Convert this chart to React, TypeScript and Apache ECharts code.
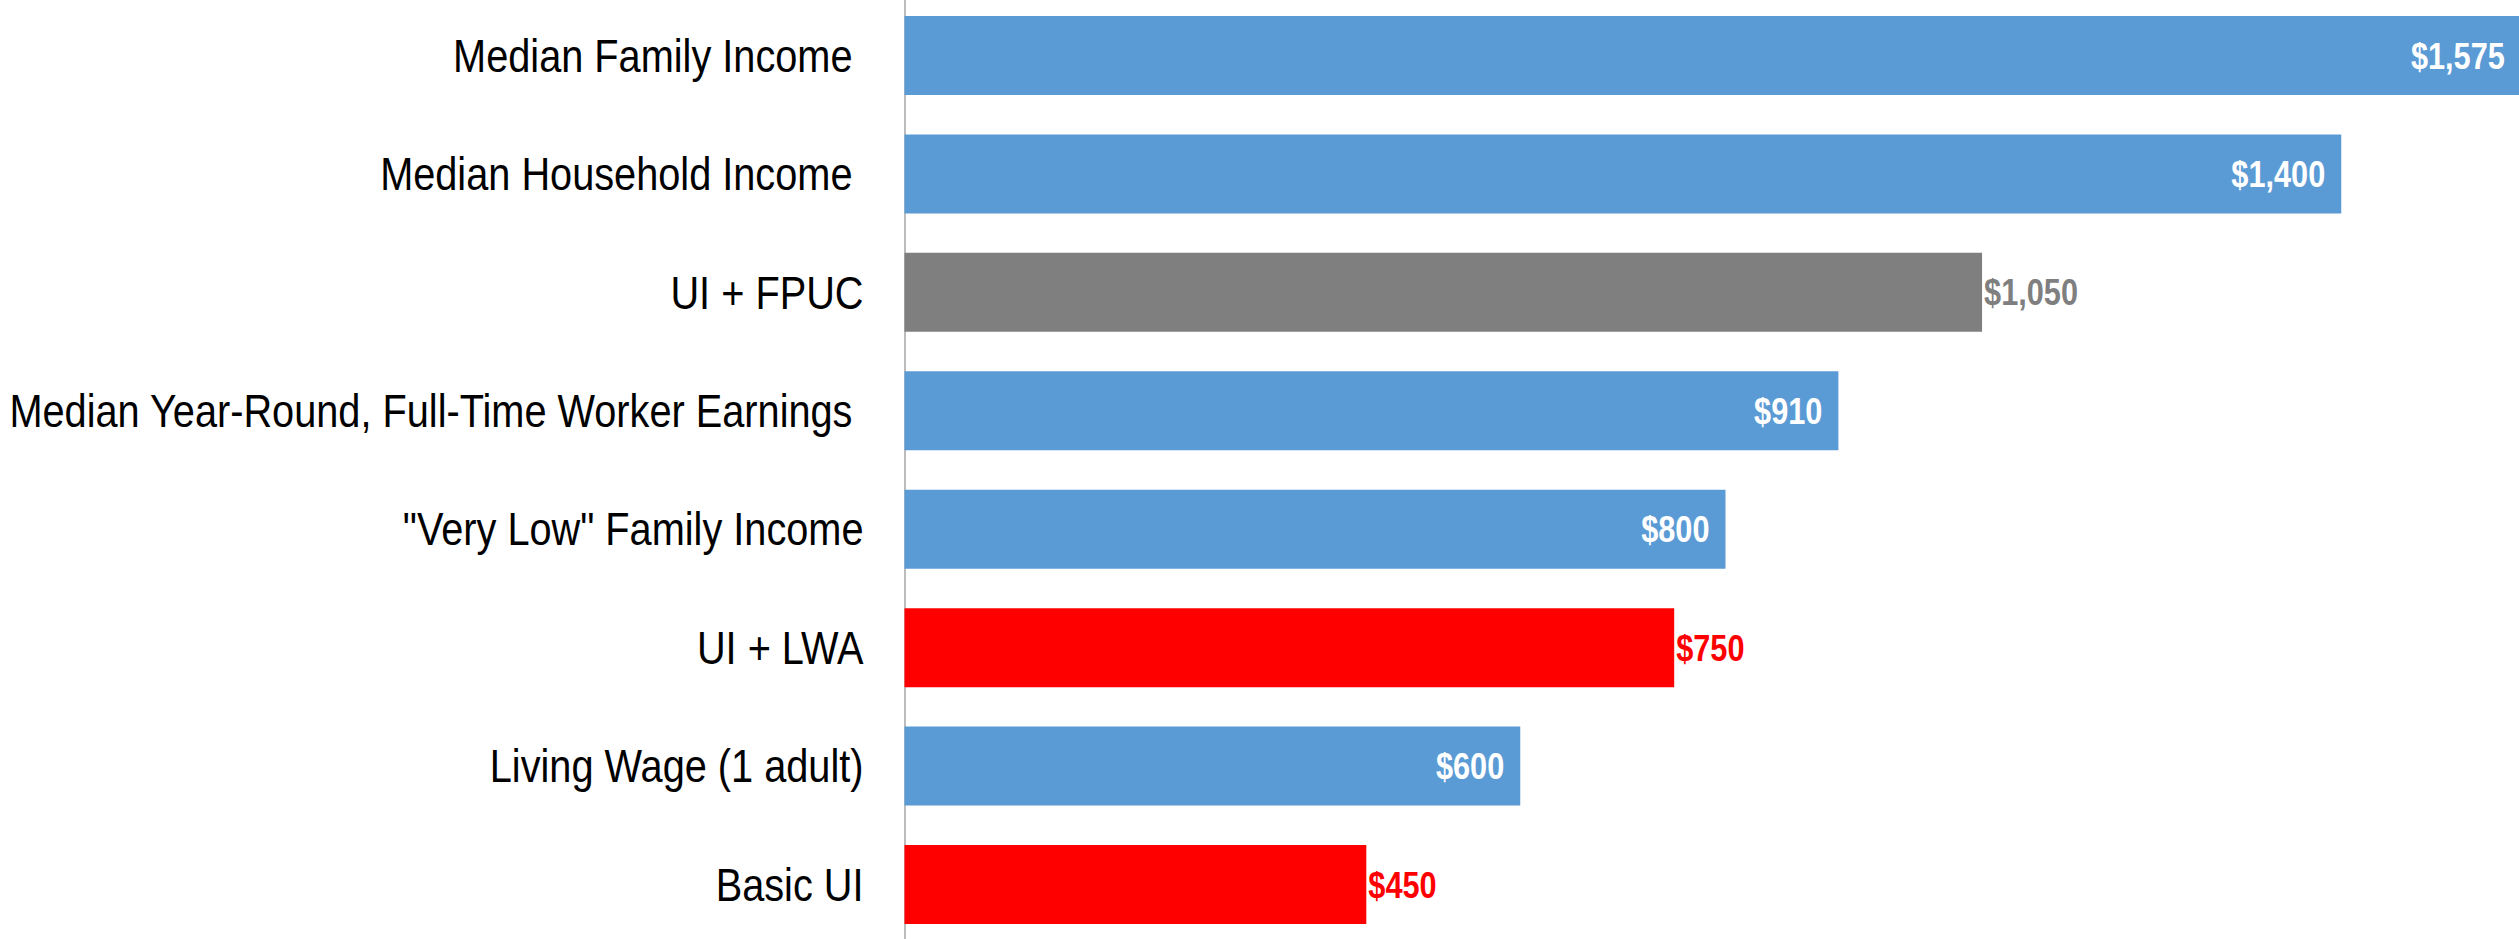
import React, { useEffect, useRef } from "react";
import * as echarts from "echarts";

const categories = [
  "Median Family Income ",
  "Median Household Income ",
  "UI + FPUC",
  "Median Year-Round, Full-Time Worker Earnings ",
  "\"Very Low\" Family Income",
  "UI + LWA",
  "Living Wage (1 adult)",
  "Basic UI",
];
const values = [1575, 1400, 1050, 910, 800, 750, 600, 450];
const kinds = ["benchmark", "benchmark", "fpuc", "benchmark", "benchmark", "lwa", "benchmark", "ui"];

const kindColor: Record<string, string> = {
  benchmark: "#5B9BD5",
  fpuc: "#7F7F7F",
  lwa: "#FF0000",
  ui: "#FF0000",
};

const FONT = "'Liberation Sans', Arial, sans-serif";
const CAT_SCALE = 0.845;
const VAL_SCALE = 0.83;
const GRID_LEFT = 904.5;
const CAT_LABEL_MARGIN = 41;

function fmt(v: number) {
  return "$" + v.toLocaleString("en-US");
}

export default function App() {
  const ref = useRef<HTMLDivElement>(null);
  useEffect(() => {
    if (!ref.current) return;
    const chart = echarts.init(ref.current, undefined, { renderer: "svg" });
    const data = values.map((v, i) => ({
      value: v,
      itemStyle: { color: kindColor[kinds[i]] },
    }));
    chart.setOption({
      animation: false,
      backgroundColor: "#FFFFFF",
      grid: {
        left: GRID_LEFT,
        top: -3.7,
        height: 947.4,
        width: 1642,
        containLabel: false,
        outerBoundsMode: "none",
      },
      xAxis: {
        type: "value",
        min: 0,
        max: 1600,
        show: false,
        splitLine: { show: false },
      },
      yAxis: {
        type: "category",
        data: categories,
        inverse: true,
        axisLine: { show: true, lineStyle: { color: "#A6A6A6", width: 1.5 } },
        axisTick: { show: false },
        axisLabel: { show: false },
      },
      series: [
        {
          type: "bar",
          data,
          barWidth: 79,
          label: { show: false },
        },
      ],
    });

    // Narrow-font texts (Arial Narrow look), placed through the chart's own scales
    const elements: any[] = [];
    categories.forEach((c, i) => {
      const y = chart.convertToPixel({ yAxisIndex: 0 }, i) as number;
      elements.push({
        type: "text",
        x: GRID_LEFT - CAT_LABEL_MARGIN,
        y,
        scaleX: CAT_SCALE,
        z: 100,
        silent: true,
        style: {
          text: c,
          fill: "#000000",
          fontSize: 47,
          fontFamily: FONT,
          align: "right",
          verticalAlign: "middle",
        },
      });
    });
    values.forEach((v, i) => {
      const y = chart.convertToPixel({ yAxisIndex: 0 }, i) as number;
      const xEnd = chart.convertToPixel({ xAxisIndex: 0 }, v) as number;
      const k = kinds[i];
      const inside = k === "benchmark";
      elements.push({
        type: "text",
        x: inside ? xEnd - 16 : xEnd + 2,
        y,
        scaleX: VAL_SCALE,
        z: 100,
        silent: true,
        style: {
          text: fmt(v),
          fill: inside ? "#FFFFFF" : kindColor[k],
          fontSize: 37,
          fontWeight: "bold",
          fontFamily: FONT,
          align: inside ? "right" : "left",
          verticalAlign: "middle",
        },
      });
    });
    chart.setOption({ graphic: { elements } });
    return () => chart.dispose();
  }, []);
  return (
    <div
      ref={ref}
      style={{ position: "fixed", left: 0, top: 0, width: 2519, height: 939, background: "#fff" }}
    />
  );
}
